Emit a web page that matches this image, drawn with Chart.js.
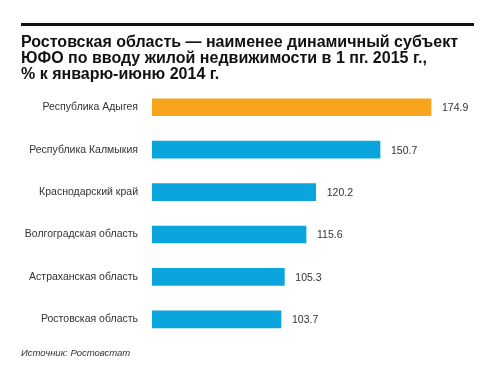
<!DOCTYPE html>
<html>
<head>
<meta charset="utf-8">
<script src="https://cdn.jsdelivr.net/npm/chart.js@4"></script>
<style>
  html, body { margin: 0; padding: 0; background: #fff; }
  #wrap { position: relative; width: 500px; height: 372px; }
</style>
</head>
<body>
<div id="wrap"><canvas id="myChart" width="500" height="372"></canvas></div>
<script>
var regions = ["Республика Адыгея", "Республика Калмыкия", "Краснодарский край", "Волгоградская область", "Астраханская область", "Ростовская область"]
var values = [174.9, 150.7, 120.2, 115.6, 105.3, 103.7]
var valueLabels = ["174.9", "150.7", "120.2", "115.6", "105.3", "103.7"]
var titleLines = ["Ростовская область — наименее динамичный субъект", "ЮФО по вводу жилой недвижимости в 1 пг. 2015 г.,", "% к январю-июню 2014 г."]
var sourceText = "Источник: Ростовстат"

var orange = "#f8a41d"
var blue = "#0ba5dd"

// top rule line
var rulePlugin = {
    id: "rule",
    beforeDraw: function(chart) {
        var ctx = chart.ctx
        ctx.save()
        ctx.fillStyle = "#111"
        ctx.fillRect(21, 23, 453, 3)
        ctx.restore()
    }
}

// numbers at the end of each bar
var valuePlugin = {
    id: "values",
    afterDatasetsDraw: function(chart) {
        var ctx = chart.ctx
        var meta = chart.getDatasetMeta(0)
        ctx.save()
        ctx.font = "10.5px 'Liberation Sans', Arial, sans-serif"
        ctx.fillStyle = "#333"
        ctx.textBaseline = "middle"
        ctx.textAlign = "left"
        meta.data.forEach(function(bar, i) {
            ctx.fillText(valueLabels[i], bar.x + 11, bar.y + 1)
        })
        ctx.restore()
    }
}

new Chart("myChart", {
    type: "bar",
    data: {
        labels: regions,
        datasets: [{
            data: values,
            backgroundColor: values.map(function(v, i) { return i == 0 ? orange : blue }),
            borderWidth: 0,
            barThickness: 17
        }]
    },
    options: {
        indexAxis: "y",
        responsive: false,
        animation: false,
        layout: { padding: { left: 21, right: 26, top: 0, bottom: 0 } },
        plugins: {
            legend: { display: false },
            tooltip: { enabled: false },
            title: {
                display: true,
                text: titleLines,
                align: "start",
                color: "#111",
                font: { family: "'Liberation Sans', Arial, sans-serif", size: 16, weight: "bold", lineHeight: 1 },
                padding: { top: 35, bottom: 3 }
            },
            subtitle: {
                display: true,
                position: "bottom",
                text: sourceText,
                align: "start",
                color: "#333",
                font: { family: "'Liberation Sans', Arial, sans-serif", size: 9.5, style: "italic", lineHeight: 1.2 },
                padding: { top: 7, bottom: 13 }
            }
        },
        scales: {
            x: {
                display: false,
                min: 42.5,
                max: 195.3
            },
            y: {
                grid: { display: false, drawTicks: false },
                border: { display: false },
                afterFit: function(scale) { scale.width = 131 },
                ticks: {
                    color: "#333",
                    padding: 14,
                    font: { family: "'Liberation Sans', Arial, sans-serif", size: 10.5 }
                }
            }
        }
    },
    plugins: [rulePlugin, valuePlugin]
});
</script>
</body>
</html>
